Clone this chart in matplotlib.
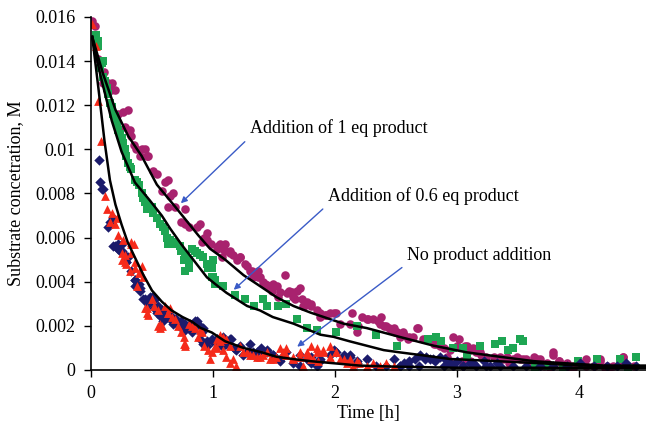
import matplotlib
matplotlib.use("Agg")
import matplotlib.pyplot as plt

plt.rcParams['font.family'] = ['Liberation Serif', 'DejaVu Serif']

# ---- data: 1 eq product (purple circles) ----
eq1_t = [0.005, 0.03, 0.055, 0.11, 0.10, 0.14, 0.17, 0.13, 0.16, 0.20,
         0.22, 0.26, 0.30, 0.28, 0.32, 0.33, 0.355, 0.37, 0.415, 0.44,
         0.40, 0.455, 0.47, 0.51, 0.54, 0.63, 0.61, 0.58, 0.65, 0.67,
         0.63, 0.69, 0.77, 0.74, 0.77, 0.80, 0.87, 0.89, 0.91, 0.95,
         0.98, 0.93, 1.04, 1.08, 1.07,
         0.948, 1.03, 1.057, 1.098, 1.139, 1.166, 1.194, 1.221, 1.262, 1.276,
         1.317, 1.33, 1.371, 1.385, 1.412, 1.44, 1.467, 1.494, 1.522, 1.549,
         1.59, 1.604, 1.645, 1.658, 1.686, 1.713, 1.727, 1.768, 1.807, 1.85, 1.877,
         1.10, 1.14, 1.22, 1.30, 1.37, 1.43, 1.48, 1.535, 1.62, 1.67,
         1.75, 1.80, 1.92, 1.96, 2.01, 2.04, 2.12, 2.18, 2.19,
         2.14, 2.22, 2.27, 2.31, 2.355, 2.38, 2.40, 2.44, 2.46, 2.49,
         2.53, 2.57, 2.60, 2.64, 2.68, 2.72, 2.78, 2.83, 2.89, 2.94,
         3.00, 3.02, 3.07, 3.11, 3.16, 3.20, 3.24, 3.30, 3.34, 2.92,
         2.94, 3.04, 3.11,
         1.74, 1.88, 1.93, 1.99, 2.26, 2.37, 2.42, 2.48, 2.51, 2.56,
         2.61, 2.67, 2.75, 2.81, 2.86, 2.97, 3.08, 3.13, 3.19, 3.35,
         3.41, 3.46, 3.52, 3.57, 3.63, 3.68, 3.74, 3.79, 3.84, 3.90,
         3.95, 4.01, 4.06, 4.12, 4.17, 4.23, 4.28, 4.34, 4.36, 4.45,
         3.33, 3.38, 3.43, 3.49, 3.54, 3.60, 3.66, 3.71, 3.76, 3.79,
         3.84, 3.90, 3.95, 4.06, 4.12, 4.17, 4.21, 4.25, 4.36, 4.40]
eq1_c = [0.0158, 0.0156, 0.0141, 0.0135, 0.0130, 0.0130, 0.0130, 0.0127, 0.0127, 0.0127,
         0.0116, 0.0117, 0.0118, 0.0110, 0.0109, 0.0106, 0.0102, 0.0100, 0.0100, 0.0100,
         0.0097, 0.0097, 0.0097, 0.0090, 0.0089, 0.0086, 0.0085, 0.0081, 0.0079, 0.0080,
         0.0074, 0.0074, 0.0073, 0.0067, 0.0066, 0.0065, 0.0065, 0.0066, 0.0058, 0.0059,
         0.0057, 0.0060, 0.0056, 0.0055, 0.0051,
         0.0062, 0.0055, 0.0057, 0.0054, 0.0053, 0.0052, 0.0050, 0.0051, 0.0048, 0.0047,
         0.0045, 0.0042, 0.0045, 0.0042, 0.0040, 0.00385, 0.0037, 0.0039, 0.0038, 0.00355,
         0.0043, 0.0035, 0.00355, 0.0033, 0.0036, 0.0037, 0.0032, 0.0031, 0.0030, 0.0027, 0.0026,
         0.0057, 0.0054, 0.0051, 0.0045, 0.0042, 0.0039, 0.0036, 0.0033, 0.0036, 0.0032,
         0.0029, 0.0029, 0.0025, 0.0026, 0.0026, 0.0021, 0.0021, 0.0017, 0.0020,
         0.0026, 0.0024, 0.0023, 0.0023, 0.0022, 0.0024, 0.0020, 0.0019, 0.0018, 0.0017,
         0.0015, 0.0016, 0.0014, 0.0015, 0.0019, 0.0014, 0.0014, 0.0012, 0.0010, 0.0009,
         0.0011, 0.0014, 0.0011, 0.0009, 0.0008, 0.0007, 0.0006, 0.0006, 0.0005, 0.0006,
         0.0003, 0.0004, 0.0004,
         0.0029, 0.0024, 0.0025, 0.0026, 0.0023, 0.0021, 0.0020, 0.0019, 0.0017, 0.0017,
         0.0015, 0.0019, 0.0014, 0.0012, 0.0011, 0.0015, 0.0011, 0.0010, 0.0008, 0.0006,
         0.0006, 0.0005, 0.0005, 0.0005, 0.0006, 0.0005, 0.0003, 0.0007, 0.0004, 0.0003,
         0.0002, 0.0003, 0.0002, 0.0002, 0.0004, 0.0002, 0.0002, 0.0003, 0.0006, 0.0002,
         0.0005, 0.0005, 0.0003, 0.0006, 0.0005, 0.0003, 0.0005, 0.0002, 0.0001, 0.0008,
         0.0004, 0.0001, 0.0001, 0.0005, 0.0002, 0.0005, 0.0001, 0.0001, 0.0006, 0.0002]

# ---- data: 0.6 eq product (green squares) ----
eq06_t = [0.04, 0.055, 0.06, 0.09, 0.10, 0.075, 0.10, 0.115, 0.13, 0.14,
          0.155, 0.17, 0.18, 0.20, 0.21, 0.22, 0.24, 0.25, 0.265, 0.28,
          0.29, 0.305, 0.32, 0.33, 0.36, 0.375, 0.39, 0.415, 0.43, 0.44,
          0.47, 0.50, 0.455, 0.51, 0.54, 0.565, 0.59, 0.61, 0.62, 0.65,
          0.675, 0.70, 0.635, 0.74, 0.77, 0.80, 0.825, 0.85, 0.89, 0.92,
          0.95, 0.96, 0.76, 0.77, 0.80, 0.99, 1.02, 0.73, 0.785, 0.87,
          1.00, 0.99, 1.00, 1.02,
          1.08, 1.18, 1.26, 1.34, 1.41, 1.44, 1.535, 1.60, 1.69, 1.77,
          1.85, 2.01, 2.18, 2.34, 2.51, 2.76, 2.83, 2.87, 2.97, 3.05,
          3.08, 3.19, 3.31, 3.37, 3.42, 3.46, 3.52, 3.54, 3.64, 3.75,
          3.87, 3.99, 4.15, 4.34, 4.40, 4.47]
eq06_c = [0.0152, 0.0149, 0.0147, 0.0139, 0.0140, 0.0137, 0.0133, 0.0131, 0.0128, 0.0125,
          0.0121, 0.0119, 0.0116, 0.0115, 0.0112, 0.0109, 0.0107, 0.0105, 0.0103, 0.0100,
          0.0097, 0.0094, 0.0092, 0.0091, 0.0086, 0.0085, 0.0084, 0.0080, 0.0078, 0.0076,
          0.0075, 0.0074, 0.0073, 0.0071, 0.0069, 0.0066, 0.0065, 0.0063, 0.0060, 0.0059,
          0.0058, 0.0057, 0.0057, 0.0054, 0.0052, 0.0050, 0.0055, 0.0054, 0.0052, 0.0051,
          0.0048, 0.0046, 0.0050, 0.0045, 0.0046, 0.0042, 0.0039, 0.0056, 0.0050, 0.0053,
          0.0050, 0.0046, 0.0042, 0.0041,
          0.0038, 0.0034, 0.0032, 0.0029, 0.0032, 0.0029, 0.0029, 0.0030, 0.0023, 0.0019,
          0.0018, 0.0017, 0.0020, 0.0016, 0.0011, 0.0014, 0.0015, 0.0013, 0.0010, 0.0010,
          0.0006, 0.0011, 0.0012, 0.0013, 0.0009, 0.0010, 0.0014, 0.0013, 0.0001, 0.0002,
          0.0001, 0.0004, 0.0005, 0.0005, 0.0001, 0.0006]

# ---- data: no product addition, run A (red triangles) ----
none_a_t = [0.005, 0.04, 0.06, 0.08, 0.115, 0.13, 0.17, 0.155, 0.20, 0.21,
            0.33, 0.35, 0.28, 0.25, 0.29, 0.32, 0.36, 0.39, 0.415, 0.43,
            0.375, 0.44, 0.455, 0.50, 0.52, 0.55, 0.61, 0.63, 0.66, 0.565,
            0.58, 0.69, 0.715, 0.74, 0.76, 0.77, 0.80, 0.825, 0.85, 0.89,
            0.88, 0.91, 0.93, 0.96, 0.99, 1.03, 0.975, 1.06, 1.08,
            0.22, 0.26, 0.25, 0.28, 0.33, 0.33, 0.36, 0.40, 0.455, 0.47,
            0.55, 0.565, 0.65, 0.63, 0.76, 0.77, 1.03, 1.06, 1.08, 1.11, 1.14,
            1.22, 1.28, 1.33, 1.385, 1.44, 1.49, 1.55, 1.60, 1.66, 1.71,
            1.77, 1.82, 1.86,
            1.06, 1.08, 1.11, 1.02, 1.14, 1.167, 1.19, 1.25, 1.30, 1.36,
            1.41, 1.47, 1.52, 1.57, 1.60, 1.66, 1.71, 1.77, 1.80, 1.85,
            1.90, 1.96, 2.01, 2.07, 2.12, 2.18,
            1.74, 1.80, 1.85, 1.90, 1.96, 2.01, 2.04, 2.10, 2.15, 2.20,
            2.26, 2.31, 2.37, 2.42, 2.48]
none_a_c = [0.0157, 0.0147, 0.0122, 0.0104, 0.0079, 0.0073, 0.0071, 0.0067, 0.0066, 0.0069,
            0.0058, 0.0057, 0.0052, 0.0050, 0.0048, 0.0045, 0.0046, 0.0044, 0.0047, 0.0042,
            0.0038, 0.0028, 0.0026, 0.0032, 0.0029, 0.0027, 0.0029, 0.0026, 0.0024, 0.0021,
            0.0020, 0.0023, 0.0020, 0.0017, 0.0015, 0.0012, 0.0021, 0.0020, 0.0019, 0.0018,
            0.0015, 0.0017, 0.0011, 0.0009, 0.0008, 0.0010, 0.0005, 0.0015, 0.0014,
            0.0061, 0.0059, 0.0053, 0.0049, 0.0057, 0.0053, 0.0049, 0.0045, 0.0028, 0.0025,
            0.0020, 0.0019, 0.0028, 0.0026, 0.0012, 0.0011, 0.0014, 0.0013, 0.0009, 0.0006, 0.0003,
            0.0011, 0.0008, 0.0007, 0.0006, 0.0008, 0.0005, 0.0010, 0.0007, 0.0006, 0.0008,
            0.0007, 0.0005, 0.0004,
            0.0016, 0.0015, 0.0014, 0.0011, 0.0011, 0.0005, 0.0002, 0.0008, 0.0007, 0.0006,
            0.0007, 0.0005, 0.0006, 0.0008, 0.0010, 0.0005, 0.0006, 0.0008, 0.0011, 0.0010,
            0.0009, 0.0011, 0.0008, 0.0005, 0.0005, 0.0004,
            0.0002, 0.0005, 0.0008, 0.0008, 0.0006, 0.0008, 0.0005, 0.0003, 0.0002, 0.0003,
            0.0002, 0.0003, 0.0002, 0.0003, 0.0002]

# ---- data: no product addition, run B (navy diamonds) ----
none_b_t = [0.065, 0.075, 0.09, 0.10, 0.155, 0.14, 0.18, 0.20, 0.22, 0.25,
            0.24, 0.28, 0.30, 0.29, 0.36, 0.39, 0.40, 0.44, 0.47, 0.50,
            0.525, 0.55, 0.58, 0.61, 0.65, 0.675, 0.70, 0.74, 0.77, 0.81,
            0.85, 0.89, 0.92, 0.77, 0.825, 0.89, 0.92, 0.95, 0.99, 1.03,
            1.06, 1.08,
            0.18, 0.22, 0.25, 0.29, 0.33, 0.36, 0.36, 0.40, 0.43, 0.455,
            0.48, 0.52, 0.54, 0.57, 0.59, 0.62, 0.65, 0.69, 0.72, 0.76,
            0.80, 0.83, 0.87, 0.91, 0.95, 0.99, 1.03, 1.07, 1.11, 1.15,
            1.17, 1.22, 1.28, 1.33, 1.39, 1.44, 1.49, 1.55, 1.66, 1.71,
            1.77, 1.85,
            1.08, 1.14, 1.19, 1.25, 1.30, 1.36, 1.39, 1.44, 1.49, 1.55,
            1.60, 1.71, 1.80, 1.88, 1.96, 2.01, 2.07, 2.12, 2.18,
            2.53, 2.57, 2.61, 2.66, 2.70, 2.74, 2.78, 2.82, 2.86, 2.90,
            2.94, 3.00, 3.05, 3.11, 3.16, 3.22, 3.27, 3.33,
            1.80, 1.88, 1.99, 2.07, 2.12, 2.18, 2.26, 2.34, 2.42, 2.48,
            2.53, 2.61, 2.69, 2.75, 2.80, 2.89, 2.97, 3.05, 3.13, 3.24,
            3.35, 3.46, 3.57, 3.68, 3.79, 3.90, 4.01, 4.12, 4.23, 4.31,
            4.39, 4.47]
none_b_c = [0.0095, 0.0085, 0.0082, 0.0082, 0.0067, 0.0065, 0.0069, 0.0056, 0.0055, 0.0057,
            0.0054, 0.0052, 0.0051, 0.0049, 0.0041, 0.0039, 0.0037, 0.0032, 0.0030, 0.0033,
            0.0032, 0.0029, 0.0027, 0.0026, 0.0023, 0.0021, 0.0023, 0.0022, 0.0021, 0.0021,
            0.0022, 0.0020, 0.0019, 0.0018, 0.0017, 0.0014, 0.0012, 0.0011, 0.0013, 0.0014,
            0.0012, 0.0011,
            0.0056, 0.0057, 0.0054, 0.0049, 0.0045, 0.0041, 0.0038, 0.0036, 0.0032, 0.0031,
            0.0033, 0.0028, 0.0026, 0.0024, 0.0022, 0.0024, 0.0025, 0.0023, 0.0020, 0.0020,
            0.0020, 0.0018, 0.0022, 0.0017, 0.0013, 0.0014, 0.0014, 0.0011, 0.0012, 0.0014,
            0.0010, 0.0011, 0.0008, 0.0008, 0.0010, 0.0009, 0.0007, 0.0005, 0.0003, 0.0002,
            0.0005, 0.0002,
            0.0015, 0.0014, 0.0009, 0.0007, 0.0012, 0.0008, 0.0009, 0.0008, 0.0007, 0.0004,
            0.0008, 0.0007, 0.0003, 0.0004, 0.0007, 0.0008, 0.0007, 0.0006, 0.0004,
            0.0002, 0.0003, 0.0004, 0.0005, 0.0007, 0.0005, 0.0005, 0.0004, 0.0006, 0.0005,
            0.0003, 0.0004, 0.0002, 0.0003, 0.0002, 0.0004, 0.0002, 0.0003,
            0.0006, 0.0005, 0.0009, 0.0005, 0.0007, 0.0003, 0.0005, 0.0002, 0.0002, 0.0005,
            0.0002, 0.0002, 0.0002, 0.0006, 0.0005, 0.0002, 0.0002, 0.0002, 0.0003, 0.0002,
            0.0002, 0.0002, 0.0002, 0.0002, 0.0002, 0.0002, 0.0003, 0.0002, 0.0002, 0.0002,
            0.0003, 0.0002]

# ---- fitted curves ----
fit_none_t = [0.01, 0.06, 0.11, 0.155, 0.20, 0.25, 0.30, 0.36, 0.43, 0.50,
              0.58, 0.66, 0.75, 0.825, 0.90, 0.99, 1.10, 1.25, 1.40, 1.52,
              1.65, 1.80, 2.00, 2.20, 2.50, 3.00, 3.50, 4.00, 4.55]
fit_none_c = [0.0151, 0.0128, 0.0104, 0.0086, 0.0075, 0.0066, 0.0058, 0.0051, 0.0043, 0.0036,
              0.0031, 0.0027, 0.0024, 0.0022, 0.0019, 0.0017, 0.0013, 0.0010, 0.0008, 0.0006,
              0.0005, 0.0004, 0.0003, 0.0002, 0.00015, 0.0001, 0.0001, 0.0001, 0.0001]
fit_06_t = [0.01, 0.075, 0.17, 0.25, 0.36, 0.48, 0.58, 0.65, 0.74, 0.88,
            0.95, 1.04, 1.11, 1.28, 1.385, 1.49, 1.66, 1.88, 1.99, 2.12,
            2.26, 2.40, 2.53, 2.67, 2.94, 3.33, 3.70, 4.00, 4.55]
fit_06_c = [0.0151, 0.0134, 0.0113, 0.0099, 0.0085, 0.0077, 0.0070, 0.0064, 0.0057, 0.0047,
            0.0042, 0.0038, 0.0035, 0.0029, 0.0027, 0.0024, 0.0021, 0.0016, 0.0015, 0.0013,
            0.0011, 0.0009, 0.0008, 0.0007, 0.0005, 0.0004, 0.0003, 0.0002, 0.00015]
fit_1_t = [0.01, 0.10, 0.20, 0.305, 0.415, 0.54, 0.69, 0.88, 0.975, 1.10,
           1.25, 1.44, 1.52, 1.66, 1.80, 2.07, 2.26, 2.53, 2.81, 3.08,
           3.35, 3.63, 3.90, 4.20, 4.55]
fit_1_c = [0.0151, 0.0134, 0.0118, 0.0106, 0.0097, 0.0084, 0.0074, 0.0061, 0.0055, 0.0050,
           0.0043, 0.0036, 0.0033, 0.0029, 0.0026, 0.0021, 0.0019, 0.0015, 0.0011, 0.0008,
           0.0006, 0.0004, 0.0003, 0.0002, 0.0002]

x_ticks = [0, 1, 2, 3, 4]
y_ticks = [0, 0.002, 0.004, 0.006, 0.008, 0.01, 0.012, 0.014, 0.016]
y_tick_labels = ['0', '0.002', '0.004', '0.006', '0.008', '0.01', '0.012', '0.014', '0.016']

fig = plt.figure(figsize=(6.46, 4.26), dpi=100)
ax = fig.add_axes([0.1409, 0.1315, 0.8591, 0.8286])

ax.scatter(eq1_t, eq1_c, s=38, marker='o', color='#A8226E', linewidths=0, zorder=2)
ax.scatter(eq06_t, eq06_c, s=26, marker='s', color='#1EA653', linewidths=0, zorder=2)
ax.scatter(none_b_t, none_b_c, s=28, marker='D', color='#1B1B6B', linewidths=0, zorder=2)
ax.scatter(none_a_t, none_a_c, s=40, marker='^', color='#F52A1A', linewidths=0, zorder=2)

for tt, cc in [(fit_none_t, fit_none_c), (fit_06_t, fit_06_c), (fit_1_t, fit_1_c)]:
    ax.plot(tt, cc, color='black', lw=1.8, zorder=3)

arrow_kw = dict(arrowstyle='-|>', color='#3A5BC7', lw=1.0, mutation_scale=9)
fs = 13
ax.annotate('Addition of 1 eq product', xy=(0.72, 0.00747), xytext=(1.30, 0.01096),
            fontsize=fs, va='center', ha='left',
            arrowprops=dict(**arrow_kw, relpos=(0.0, 0.0)))
ax.annotate('Addition of 0.6 eq product', xy=(1.153, 0.00355), xytext=(1.94, 0.0079),
            fontsize=fs, va='center', ha='left',
            arrowprops=dict(**arrow_kw, relpos=(0.0, 0.0)))
ax.annotate('No product addition', xy=(1.672, 0.00098), xytext=(2.59, 0.0052),
            fontsize=fs, va='center', ha='left',
            arrowprops=dict(**arrow_kw, relpos=(0.0, 0.0)))

ax.set_xlim(0, 4.55)
ax.set_ylim(0, 0.016)
ax.set_xticks(x_ticks)
ax.set_yticks(y_ticks)
ax.set_yticklabels(y_tick_labels)
ax.tick_params(labelsize=13, direction='out', length=5, width=1, pad=6)
ax.spines['top'].set_visible(False)
ax.spines['right'].set_visible(False)
ax.spines['left'].set_linewidth(1.2)
ax.spines['bottom'].set_linewidth(1.2)
ax.set_xlabel('Time [h]', fontsize=13, labelpad=2)
ax.set_ylabel('Substrate concetration, M', fontsize=13, labelpad=8)

fig.savefig('out.png', dpi=100)
